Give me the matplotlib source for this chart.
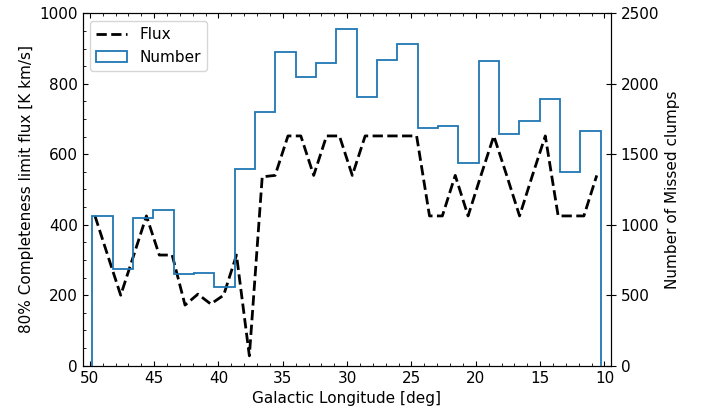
import numpy as np
import matplotlib
matplotlib.use("Agg")
import matplotlib.pyplot as plt

# Flux completeness limit vs galactic longitude
longitude = [49.6, 48.6, 47.6, 46.6, 45.6, 44.6, 43.6, 42.6, 41.6, 40.6,
             39.6, 38.6, 37.6, 36.6, 35.6, 34.6, 33.6, 32.6, 31.6, 30.6,
             29.6, 28.6, 27.6, 26.6, 25.6, 24.6, 23.6, 22.6, 21.6, 20.6,
             19.6, 18.6, 17.6, 16.6, 15.6, 14.6, 13.6, 12.6, 11.6, 10.6]
flux = [425, 312, 200, 312, 425, 314, 314, 172, 203, 175,
        200, 314, 28, 536, 540, 652, 652, 540, 652, 652,
        540, 652, 652, 652, 652, 652, 425, 425, 540, 425,
        540, 652, 540, 425, 540, 652, 425, 425, 425, 540]

# Number of missed clumps per longitude bin (from l=49.8 down to l=10.3)
counts_desc = [1064, 684, 1050, 1105, 651, 655, 556, 1395, 1800, 2228,
               2046, 2150, 2386, 1908, 2169, 2280, 1688, 1700, 1440, 2164,
               1642, 1738, 1892, 1372, 1667]
lon_lo, lon_hi = 10.3, 49.8

counts = np.array(counts_desc[::-1])
edges = np.linspace(lon_lo, lon_hi, len(counts) + 1)

fig = plt.figure(figsize=(7.03, 4.12), dpi=100)
ax = fig.add_axes([0.1177, 0.1124, 0.7513, 0.8553])
ax2 = ax.twinx()

l1, = ax.plot(longitude, flux, '--', color='black', lw=2, label='Flux')
_, _, patches = ax2.hist(edges[:-1], bins=edges, weights=counts,
                         histtype='step', color='#1f77b4', lw=1.3, label='Number')

ax.set_xlim(50.55, 9.5)
ax.set_ylim(0, 1000)
ax2.set_ylim(0, 2500)
ax.set_xticks([50, 45, 40, 35, 30, 25, 20, 15, 10])
ax.minorticks_on()
ax.tick_params(which='both', direction='in', top=True, right=False)
ax.tick_params(which='major', right=True, labelsize=11)
ax2.tick_params(labelsize=11)

ax.set_xlabel('Galactic Longitude [deg]', fontsize=11)
ax.set_ylabel('80% Completeness limit flux [K km/s]', fontsize=11)
ax2.set_ylabel('Number of Missed clumps', fontsize=11)

ax.legend([l1, patches[0]], ['Flux', 'Number'], loc='upper left', fontsize=11)

fig.savefig('out.png', dpi=100)
